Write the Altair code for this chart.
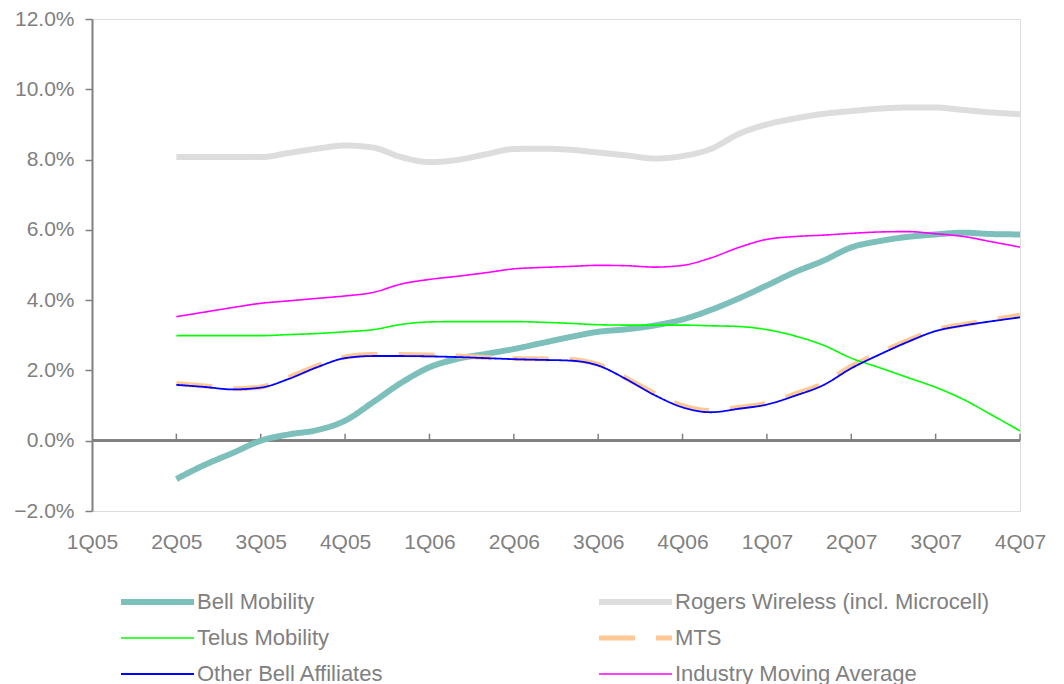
import json
import altair as alt
import pandas as pd

# ---- data -------------------------------------------------------------
quarter_labels = ["1Q05", "2Q05", "3Q05", "4Q05", "1Q06", "2Q06", "3Q06",
                  "4Q06", "1Q07", "2Q07", "3Q07", "4Q07"]

# monthly observations from 2Q05 to 4Q07 (position in quarter units)
x_pos = [round(1 + i / 3, 4) for i in range(31)]

# legend order (column-major: left column first, then right column)
series_names = ["Bell Mobility", "Telus Mobility", "Other Bell Affiliates",
                "Rogers Wireless (incl. Microcell)", "MTS",
                "Industry Moving Average"]

bell = [-1.09, -0.69, -0.35, 0.00, 0.18, 0.30, 0.57, 1.10, 1.65, 2.09, 2.33,
        2.47, 2.61, 2.78, 2.95, 3.10, 3.17, 3.28, 3.45, 3.72, 4.05, 4.42,
        4.80, 5.12, 5.50, 5.68, 5.80, 5.87, 5.92, 5.88, 5.87]
rogers = [8.07, 8.07, 8.07, 8.07, 8.19, 8.31, 8.40, 8.34, 8.07, 7.93, 7.99,
          8.15, 8.30, 8.31, 8.28, 8.20, 8.12, 8.03, 8.10, 8.30, 8.73, 9.00,
          9.17, 9.30, 9.38, 9.45, 9.48, 9.48, 9.41, 9.34, 9.29]
telus = [2.99, 2.99, 2.99, 2.99, 3.02, 3.05, 3.10, 3.16, 3.31, 3.38, 3.39,
         3.39, 3.39, 3.37, 3.34, 3.30, 3.29, 3.29, 3.29, 3.27, 3.25, 3.16,
         2.98, 2.72, 2.35, 2.08, 1.80, 1.52, 1.17, 0.73, 0.28]
mts = [1.63, 1.56, 1.48, 1.53, 1.80, 2.13, 2.38, 2.45, 2.45, 2.44, 2.41,
       2.37, 2.34, 2.33, 2.31, 2.17, 1.78, 1.35, 1.00, 0.86, 0.95, 1.07,
       1.33, 1.63, 2.12, 2.50, 2.85, 3.15, 3.31, 3.44, 3.57]
other = [1.59, 1.53, 1.46, 1.51, 1.76, 2.09, 2.35, 2.41, 2.41, 2.40, 2.38,
         2.35, 2.32, 2.30, 2.28, 2.14, 1.75, 1.30, 0.95, 0.81, 0.91, 1.03,
         1.28, 1.58, 2.06, 2.45, 2.81, 3.12, 3.28, 3.40, 3.51]
industry = [3.53, 3.66, 3.79, 3.91, 3.98, 4.05, 4.12, 4.22, 4.46, 4.59, 4.68,
            4.78, 4.89, 4.93, 4.96, 4.99, 4.98, 4.94, 4.99, 5.20, 5.50, 5.73,
            5.81, 5.85, 5.90, 5.94, 5.95, 5.89, 5.81, 5.66, 5.51]

y_ticks = [-2, 0, 2, 4, 6, 8, 10, 12]

# ---- styles (same order as series_names) ------------------------------
colors = ["#7DBFBB", "#00FF00", "#0000FF", "#DDDDDD", "#FFC996", "#FF00FF"]
widths = [6, 1.6, 1.8, 6, 5, 1.6]
dashes = [[1, 0], [1, 0], [1, 0], [1, 0], [36, 21], [1, 0]]

# drawing order (bottom -> top)
draw_order = [("Rogers Wireless (incl. Microcell)", rogers),
              ("Bell Mobility", bell),
              ("MTS", mts),
              ("Telus Mobility", telus),
              ("Other Bell Affiliates", other),
              ("Industry Moving Average", industry)]

rows = []
for k, (name, vals) in enumerate(draw_order):
    for x, v in zip(x_pos, vals):
        rows.append({"series": name, "x": x, "v": v, "z": k})
df = pd.DataFrame(rows)

tick_df = pd.DataFrame({"q": list(range(1, 12))})

FONT = "Liberation Sans"
GRAY = "#808080"
label_expr = json.dumps(quarter_labels) + "[round(datum.value)]"

x_scale = alt.Scale(domain=[0, 11], nice=False, zero=False)
y_scale = alt.Scale(domain=[-2, 12], nice=False)

lines = alt.Chart(df).mark_line(interpolate="monotone").encode(
    x=alt.X("x:Q", scale=x_scale,
            axis=alt.Axis(values=list(range(12)), labelExpr=label_expr,
                          orient="bottom", domain=False, ticks=False,
                          grid=False, title=None, labelFontSize=21,
                          labelColor=GRAY, labelFont=FONT, labelPadding=20,
                          labelFlush=False)),
    y=alt.Y("v:Q", scale=y_scale,
            axis=alt.Axis(values=y_ticks,
                          labelExpr="format(datum.value, '.1f') + '%'",
                          grid=False, title=None, domainColor=GRAY,
                          domainWidth=2, tickColor=GRAY, tickWidth=1.5,
                          tickSize=7, labelFontSize=21, labelColor=GRAY,
                          labelFont=FONT, labelPadding=11)),
    color=alt.Color("series:N",
                    scale=alt.Scale(domain=series_names, range=colors),
                    legend=alt.Legend(
                        title=None, orient="none", legendX=26, legendY=565,
                        columns=2, columnPadding=212, rowPadding=0,
                        clipHeight=36,
                        symbolType="stroke", symbolSize=5329,
                        labelFontSize=22, labelColor=GRAY, labelFont=FONT,
                        labelOffset=0, padding=0, labelLimit=400)),
    strokeWidth=alt.StrokeWidth("series:N",
                                scale=alt.Scale(type="ordinal",
                                                domain=series_names,
                                                range=widths),
                                legend=None),
    strokeDash=alt.StrokeDash("series:N",
                              scale=alt.Scale(domain=series_names,
                                              range=dashes),
                              legend=None),
    detail="z:N",
)

# zero line and its upward ticks
zero_line = alt.Chart(tick_df).mark_rule(color=GRAY, strokeWidth=2).encode(
    x=alt.datum(0, scale=x_scale), x2=alt.datum(11),
    y=alt.datum(0, scale=y_scale),
)
zero_ticks = alt.Chart(tick_df).mark_rule(color=GRAY, strokeWidth=1.5).encode(
    x=alt.X("q:Q", scale=x_scale),
    y=alt.datum(0, scale=y_scale), y2=alt.datum(0.2),
)

chart = alt.layer(zero_line, zero_ticks, lines).properties(
    width=928, height=492,
    padding={"left": 5, "top": 0, "right": 5, "bottom": 0},
).configure_view(stroke=GRAY, strokeWidth=1.5).configure(background="white")

chart.save("out.html", embed_options={"renderer": "svg", "actions": False})
